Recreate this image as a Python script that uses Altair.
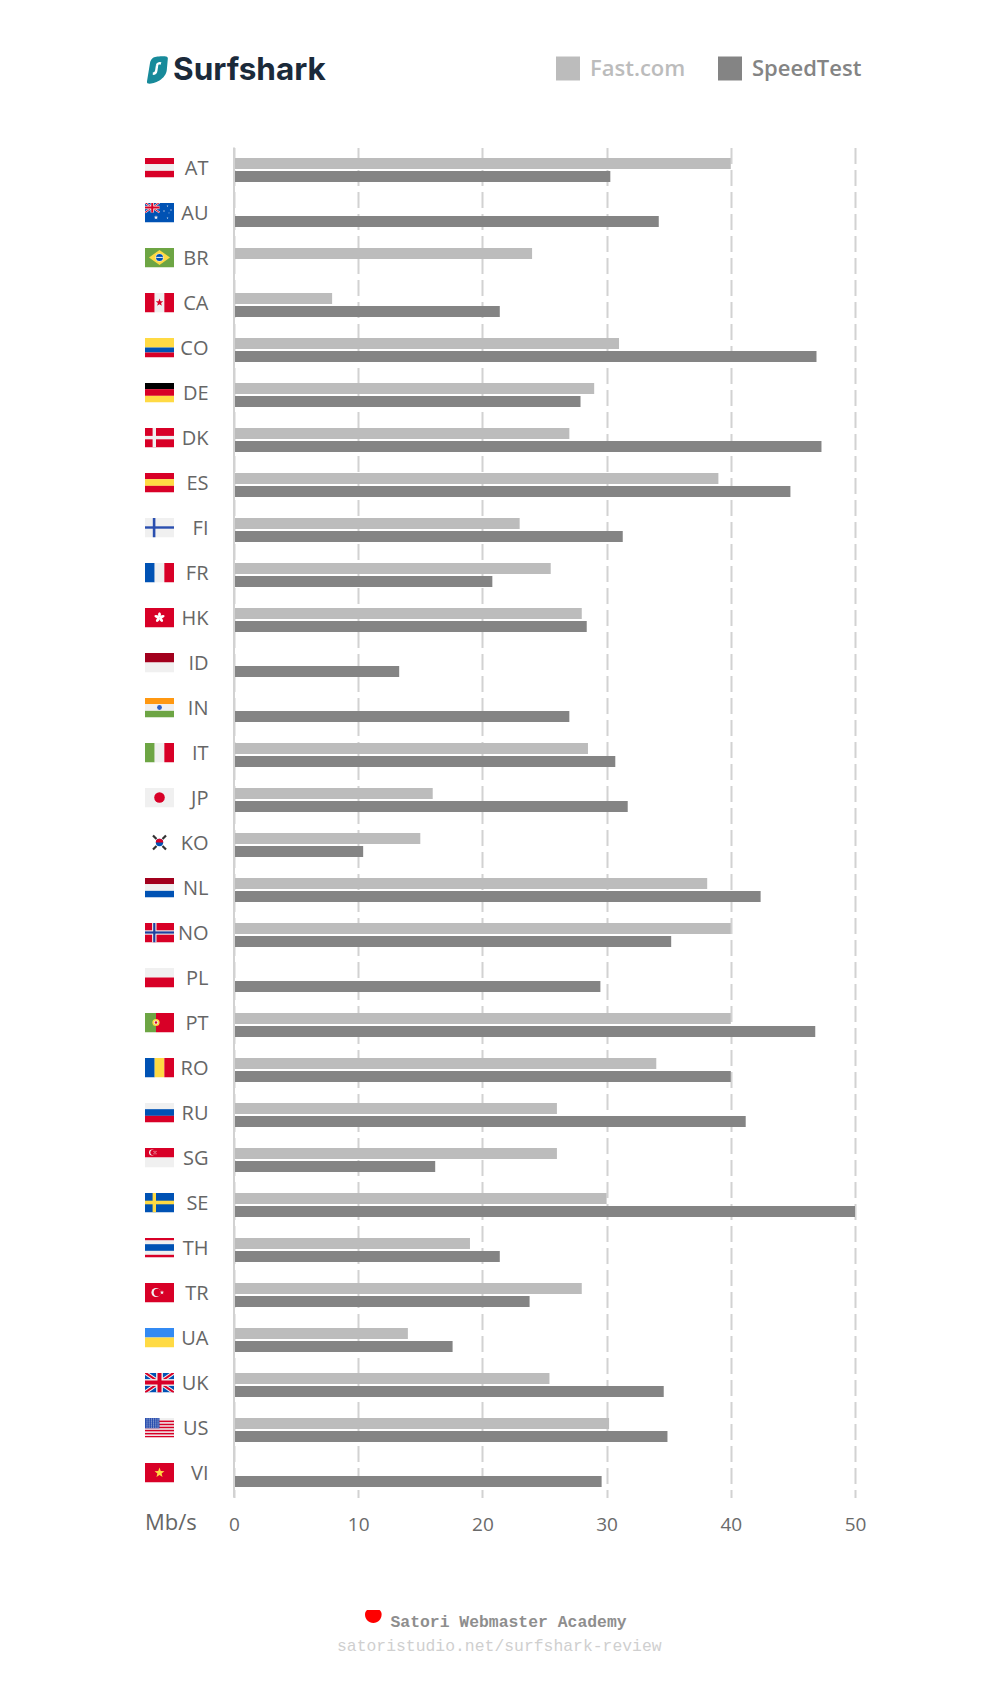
import base64
import math
import altair as alt
import pandas as pd

codes = ["AT","AU","BR","CA","CO","DE","DK","ES","FI","FR","HK","ID","IN","IT","JP",
         "KO","NL","NO","PL","PT","RO","RU","SG","SE","TH","TR","UA","UK","US","VI"]
fast = [40,None,24,7.9,31,29,27,39,23,25.5,28,None,None,28.5,16,
        15,38.1,40,None,40,34,26,26,30,19,28,14,25.4,30.2,None]
speed = [30.3,34.2,None,21.4,46.9,27.9,47.3,44.8,31.3,20.8,28.4,13.3,27,30.7,31.7,
         10.4,42.4,35.2,29.5,46.8,40,41.2,16.2,50,21.4,23.8,17.6,34.6,34.9,29.6]
series_names = ["Fast.com", "SpeedTest"]
series_colors = ["#bcbcbc", "#848484"]
x_ticks = [0, 10, 20, 30, 40, 50]

R, B, Y, G, W, DR, K, O = "#d80027", "#0052b4", "#ffda44", "#6da544", "#f0f0f0", "#a2001d", "#000000", "#ff9811"


def rect(x, y, w, h, c):
    return f'<rect x="{x}" y="{y}" width="{w}" height="{h}" fill="{c}"/>'


def hb(*cs):
    h = 20 / len(cs)
    return "".join(rect(0, i * h, 29, h + 0.02, c) for i, c in enumerate(cs))


def vb(*cs):
    w = 29 / len(cs)
    return "".join(rect(i * w, 0, w + 0.02, 20, c) for i, c in enumerate(cs))


def circ(x, y, r, c):
    return f'<circle cx="{x}" cy="{y}" r="{r}" fill="{c}"/>'


def poly(pts, c):
    return f'<polygon points="{pts}" fill="{c}"/>'


def star(cx, cy, r, c):
    pts = []
    for i in range(10):
        a = -math.pi / 2 + i * math.pi / 5
        rr = r if i % 2 == 0 else r * 0.42
        pts.append(f"{cx + rr * math.cos(a):.2f},{cy + rr * math.sin(a):.2f}")
    return poly(" ".join(pts), c)


def cross(vx, vw, hy, hh, c):
    return rect(vx, 0, vw, 20, c) + rect(0, hy, 29, hh, c)


def jack(w, h):
    sw = h * 0.2
    s = rect(0, 0, w, h, "#0052b4")
    s += f'<path d="M0 0L{w} {h}M{w} 0L0 {h}" stroke="{W}" stroke-width="{sw}"/>'
    s += f'<path d="M0 0L{w} {h}M{w} 0L0 {h}" stroke="{R}" stroke-width="{sw/2}"/>'
    s += rect(w / 2 - sw * 0.85, 0, sw * 1.7, h, W) + rect(0, h / 2 - sw * 0.85, w, sw * 1.7, W)
    s += rect(w / 2 - sw * 0.5, 0, sw, h, R) + rect(0, h / 2 - sw * 0.5, w, sw, R)
    return s


flags = {
    "AT": hb(R, W, R),
    "AU": rect(0, 0, 29, 20, B) + jack(14.5, 10) + star(11, 15, 2.3, W) + star(22.5, 3.5, 1, W)
          + star(22.5, 15.5, 1, W) + star(19, 8.5, 1, W) + star(26, 7.5, 1, W) + star(24, 10.5, .7, W),
    "BR": rect(0, 0, 29, 20, G) + poly("14.5,2.5 25,10 14.5,17.5 4,10", Y) + circ(14.5, 10, 4, W)
          + circ(14.5, 10, 3.5, B) + rect(11.2, 9.4, 6.6, 1, W),
    "CA": vb(R, W, R) + star(14.5, 10, 4, R),
    "CO": rect(0, 0, 29, 10, Y) + rect(0, 10, 29, 5, B) + rect(0, 15, 29, 5, R),
    "DE": hb(K, R, Y),
    "DK": rect(0, 0, 29, 20, R) + cross(7.6, 3.4, 8.4, 3.4, W),
    "ES": hb(R, Y, R),
    "FI": rect(0, 0, 29, 20, W) + cross(7.8, 2.6, 8.8, 2.4, "#2a4faf"),
    "FR": vb(B, W, R),
    "HK": rect(0, 0, 29, 20, R) + "".join(
        f'<ellipse cx="14.5" cy="7.3" rx="1.5" ry="2.6" fill="#fff" transform="rotate({a} 14.5 10)"/>'
        for a in (0, 72, 144, 216, 288)),
    "ID": hb(DR, W),
    "IN": hb(O, W, G) + circ(14.5, 10, 2.4, "#2e5fc4"),
    "IT": vb(G, W, R),
    "JP": rect(0, 0, 29, 20, W) + circ(14.5, 10, 5.3, R),
    "KO": rect(0, 0, 29, 20, "#ffffff")
          + f'<path d="M8 3L11.5 6.5M21 3L17.5 6.5M8 17L11.5 13.5M21 17L17.5 13.5" stroke="#333" stroke-width="2.2"/>'
          + circ(14.5, 10, 3.7, B) + f'<path d="M10.8 10A3.7 3.7 0 0 1 18.2 10Z" fill="{R}"/>',
    "NL": hb(DR, W, B),
    "NO": rect(0, 0, 29, 20, R) + cross(7.1, 4.4, 7.8, 4.4, W) + cross(8.2, 2.2, 8.9, 2.2, "#1f3f9f"),
    "PL": hb(W, R),
    "PT": rect(0, 0, 11, 20, G) + rect(11, 0, 18, 20, R) + circ(11, 10, 3.6, Y) + circ(11, 10, 2.1, W)
          + circ(11, 10, 1.2, R),
    "RO": vb(B, Y, R),
    "RU": hb(W, B, R),
    "SG": hb(R, W) + circ(7, 5, 3, W) + circ(8.2, 5, 2.8, R) + circ(9, 3.8, .5, W) + circ(11, 3.8, .5, W)
          + circ(9, 6.2, .5, W) + circ(11, 6.2, .5, W) + circ(10, 5, .5, W),
    "SE": rect(0, 0, 29, 20, B) + cross(7.6, 3.4, 8.2, 3.6, Y),
    "TH": rect(0, 0, 29, 20, W) + rect(0, 0, 29, 2.7, R) + rect(0, 6.7, 29, 6.6, B) + rect(0, 17.3, 29, 2.7, R),
    "TR": rect(0, 0, 29, 20, R) + circ(11, 10, 4.6, W) + circ(12.4, 10, 3.7, R) + star(17, 10, 2.2, W),
    "UA": rect(0, 0, 29, 10, "#338af3") + rect(0, 10, 29, 10, Y),
    "UK": jack(29, 20),
    "US": rect(0, 0, 29, 20, W) + "".join(rect(0, y, 29, 1.54, R) for y in (3.1, 6.2, 9.2, 12.3, 15.4, 18.46))
          + rect(0, 0, 14.5, 10.8, "#2a4faf")
          + "".join(circ(2 + 2.2 * i, 1.6 + 2 * j, .5, W) for i in range(6) for j in range(5)),
    "VI": rect(0, 0, 29, 20, R) + star(14.5, 10.3, 5.2, Y),
}


def uri(body, w=29, h=20):
    svg = f'<svg xmlns="http://www.w3.org/2000/svg" width="{w}" height="{h}" viewBox="0 0 {w} {h}">{body}</svg>'
    return "data:image/svg+xml;base64," + base64.b64encode(svg.encode()).decode()


logo_icon = uri(
    '<path d="M7 1.5C9 .4 17 0 19.5 .4C21 .7 21.5 1.5 21.3 3L20.3 14C19.9 18 17 22 13 24.5'
    'C8 27.5 3 28 1.6 27.6C.6 27.3 .3 26.6 .5 25.2L3.5 7C3.9 4.5 5.2 2.5 7 1.5Z" fill="#178a9a"/>'
    '<path d="M14.5 7.5C12.5 6.8 10.8 7.6 10.6 9.2L9.8 14.5C9.5 16.6 8.3 17.8 6.3 17.8" stroke="#fff" '
    'stroke-width="2.4" fill="none"/>', 22, 28)
red_dot = uri('<path d="M2 0H14.6C16 1.2 16.6 2.5 16.6 4.5C16.6 9 13 13 8.3 13C3.6 13 0 9 0 4.5C0 2.5 .6 1.2 2 0Z" fill="#fe0000"/>', 17, 13)

rows = []
for c, f, s in zip(codes, fast, speed):
    if f is not None:
        rows.append({"code": c, "series": series_names[0], "value": f})
    if s is not None:
        rows.append({"code": c, "series": series_names[1], "value": s})
df = pd.DataFrame(rows)
flag_df = pd.DataFrame({"code": codes, "img": [uri(flags[c]) for c in codes]})

y_scale = alt.Scale(domain=codes, paddingInner=0, paddingOuter=0)
x_scale = alt.Scale(domain=[0, 50], nice=False, zero=True)

bars = alt.Chart(df).mark_bar().encode(
    x=alt.X("value:Q", scale=x_scale, title=None, axis=alt.Axis(
        values=x_ticks, domain=False, ticks=False, grid=True, gridColor="#d2d2d2", gridWidth=2,
        gridDash=[16, 6], gridDashOffset=8, labelFont="Open Sans", labelFontSize=19, labelColor="#6a6a6a",
        labelPadding=17.5, labelFlush=False)),
    y=alt.Y("code:N", scale=y_scale, sort=codes, title=None, axis=alt.Axis(
        domain=False, ticks=False, grid=False, labelFont="Open Sans", labelFontSize=20,
        labelColor="#666666", labelPadding=26, labelOffset=-1)),
    yOffset=alt.YOffset("series:N", sort=series_names,
                        scale=alt.Scale(domain=series_names, paddingInner=0.1538, paddingOuter=0.8077)),
    color=alt.Color("series:N", scale=alt.Scale(domain=series_names, range=series_colors), legend=alt.Legend(
        title=None, orient="none", legendX=322, legendY=-91, direction="horizontal", columns=2,
        symbolType="square", symbolSize=576, symbolOpacity=1, symbolStrokeWidth=0,
        labelFont="Open Sans", labelFontSize=22, labelFontWeight=600, columnPadding=32, labelOffset=10,
        labelColor=alt.ExprRef("datum.label == 'Fast.com' ? '#bcbcbc' : '#848484'"))),
)

zero_rule = alt.Chart(pd.DataFrame({"x": [0]})).mark_rule(color="#d2d2d2", strokeWidth=2).encode(
    x=alt.X("x:Q", scale=x_scale, title=None))

flag_marks = alt.Chart(flag_df).mark_image(width=29, height=20, yOffset=-2.5).encode(
    x=alt.value(-74.5),
    y=alt.Y("code:N", scale=y_scale, sort=codes, title=None),
    url="img:N",
)


def label(text, x, y, size, color, font="Open Sans", weight=400):
    return alt.Chart(pd.DataFrame({"t": [text]})).mark_text(
        text=text, align="left", baseline="alphabetic", font=font, fontSize=size, color=color, fontWeight=weight,
    ).encode(x=alt.value(x), y=alt.value(y))


def picture(src, x, y, w, h):
    return alt.Chart(pd.DataFrame({"u": [src]})).mark_image(width=w, height=h).encode(
        x=alt.value(x), y=alt.value(y), url="u:N")


chart = alt.layer(
    bars, zero_rule, flag_marks,
    label("Mb/s", -89, 1382.5, 22, "#666666"),
    label("Surfshark", -61, -68, 31.5, "#1b2a3a", font="Inter", weight=700),
    picture(logo_icon, -76.5, -77.5, 22, 28),
    picture(red_dot, 139.5, 1469, 17, 13),
    label("Satori Webmaster Academy", 156.5, 1479, 16.4, "#8e8e8e", font="Liberation Mono", weight=700),
    label("satoristudio.net/surfshark-review", 103, 1503, 16.4, "#cfcfcf", font="Liberation Mono"),
).properties(
    width=621, height=1350,
    autosize=alt.AutoSizeParams(type="none"),
    padding={"left": 226, "top": 139.5, "right": 137, "bottom": 194.5},
).configure_view(stroke=None)

chart.save("out.html", embed_options={"renderer": "svg", "actions": False})
